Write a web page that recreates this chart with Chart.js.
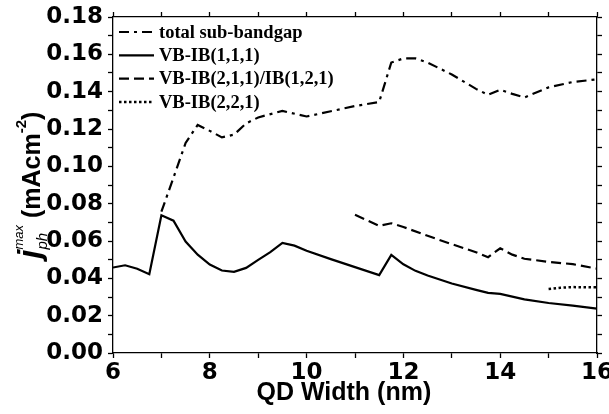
<!DOCTYPE html>
<html>
<head>
<meta charset="utf-8">
<script src="https://cdn.jsdelivr.net/npm/chart.js@4.4.0/dist/chart.umd.min.js"></script>
<style>
  html, body { margin: 0; padding: 0; background: #fff; }
  #wrap { width: 609px; height: 414px; }
</style>
</head>
<body>
<div id="wrap"><canvas id="chart" width="609" height="414"></canvas></div>
<script>
// values
const widthTotal = [7, 7.25, 7.5, 7.75, 8, 8.25, 8.5, 8.75, 9, 9.5, 10, 10.5, 11, 11.5, 11.75, 12, 12.25, 12.5, 13, 13.5, 13.75, 14, 14.25, 14.5, 15, 15.5, 16];
const totalSubBandgap = [0.0757, 0.094, 0.1125, 0.1222, 0.119, 0.1155, 0.117, 0.123, 0.1262, 0.1297, 0.1267, 0.1295, 0.1323, 0.1345, 0.1556, 0.1578, 0.1578, 0.1556, 0.1492, 0.1415, 0.1383, 0.141, 0.1388, 0.1369, 0.1423, 0.1452, 0.1466];

const widthVB111 = [6, 6.25, 6.5, 6.75, 7, 7.25, 7.5, 7.75, 8, 8.25, 8.5, 8.75, 9, 9.25, 9.5, 9.75, 10, 10.5, 11, 11.5, 11.75, 12, 12.25, 12.5, 13, 13.5, 13.75, 14, 14.5, 15, 15.5, 16];
const vb111 = [0.0458, 0.047, 0.0451, 0.0422, 0.0738, 0.0709, 0.0597, 0.0527, 0.0474, 0.0442, 0.0435, 0.0456, 0.0499, 0.054, 0.059, 0.0575, 0.0548, 0.0503, 0.046, 0.0417, 0.0526, 0.0475, 0.044, 0.0415, 0.0372, 0.0338, 0.0322, 0.0317, 0.0287, 0.0268, 0.0254, 0.0238];

const widthVB211 = [11, 11.5, 11.75, 12, 12.5, 13, 13.5, 13.75, 14, 14.25, 14.5, 15, 15.5, 16];
const vb211 = [0.074, 0.0681, 0.0695, 0.0675, 0.0628, 0.0583, 0.054, 0.0513, 0.0561, 0.0527, 0.0505, 0.0488, 0.0476, 0.0452];

const widthVB221 = [15, 15.25, 15.5, 16];
const vb221 = [0.0343, 0.035, 0.0353, 0.0352];

const seriesNames = ["total sub-bandgap", "VB-IB(1,1,1)", "VB-IB(2,1,1)/IB(1,2,1)", "VB-IB(2,2,1)"];
const xTitle = "QD Width (nm)";

const black = "#000";
const tickFont = { family: "DejaVu Sans", weight: "bold", size: 23 };

function pts(xs, ys){
  return xs.map((x, i) => ({ x: x, y: ys[i] }));
}

function line(label, xs, ys, dash, width){
  return {
    label: label,
    data: pts(xs, ys),
    borderColor: black,
    backgroundColor: black,
    borderWidth: width,
    borderDash: dash,
    pointRadius: 0,
    tension: 0,
    fill: false,
    xAxisID: "x",
    yAxisID: "y"
  };
}

function grid(){
  return { display: true, drawOnChartArea: false, drawTicks: true, tickLength: 5, tickWidth: 1.3, tickColor: black };
}
const border = { display: true, color: black, width: 1.3 };

// legend inside the plot, top left, with the dataset dash patterns
const insideLegend = {
  id: "insideLegend",
  afterDraw(chart){
    const ctx = chart.ctx;
    const area = chart.chartArea;
    ctx.save();
    ctx.font = 'bold 18.5px "Liberation Serif"';
    ctx.textBaseline = "middle";
    ctx.fillStyle = black;
    chart.data.datasets.forEach((ds, i) => {
      const y = area.top + 15 + i * 23.3;
      const x0 = area.left + 6;
      ctx.strokeStyle = black;
      ctx.lineWidth = ds.borderWidth;
      ctx.setLineDash(ds.borderDash || []);
      ctx.beginPath();
      ctx.moveTo(x0, y);
      ctx.lineTo(x0 + 35, y);
      ctx.stroke();
      ctx.setLineDash([]);
      ctx.fillText(ds.label, x0 + 40, y + 1);
    });
    ctx.restore();
  }
};

// axis titles: x title sits a little left of centre, y title has sub/superscripts
const axisTitles = {
  id: "axisTitles",
  afterDraw(chart){
    const ctx = chart.ctx;
    const area = chart.chartArea;
    const fam = '"Liberation Sans"';

    ctx.save();
    ctx.fillStyle = black;
    ctx.font = "bold 25px " + fam;
    ctx.textAlign = "center";
    ctx.textBaseline = "middle";
    ctx.fillText(xTitle, area.left + (area.right - area.left) * 0.477, 393);
    ctx.restore();

    const segs = [
      { t: "j", f: "italic bold 32px " + fam, dy: 0 },
      { stack: [ { t: "ph", f: "italic 15px " + fam, dy: 7 }, { t: "max", f: "italic 13px " + fam, dy: -17 } ] },
      { t: " (mAcm", f: "bold 25px " + fam, dy: 0 },
      { t: "-2", f: "bold 15px " + fam, dy: -14 },
      { t: ")", f: "bold 25px " + fam, dy: 0 }
    ];
    ctx.save();
    let total = 0;
    segs.forEach(s => {
      if(s.stack){
        s.w = Math.max(...s.stack.map(p => { ctx.font = p.f; return ctx.measureText(p.t).width; }));
      } else {
        ctx.font = s.f;
        s.w = ctx.measureText(s.t).width;
      }
      total += s.w;
    });
    ctx.translate(40, (area.top + area.bottom) / 2);
    ctx.rotate(-Math.PI / 2);
    ctx.fillStyle = black;
    ctx.textBaseline = "alphabetic";
    ctx.textAlign = "left";
    let x = -total / 2;
    segs.forEach(s => {
      const parts = s.stack || [s];
      parts.forEach(p => {
        ctx.font = p.f;
        ctx.fillText(p.t, x, p.dy);
      });
      x += s.w;
    });
    ctx.restore();
  }
};

new Chart(document.getElementById("chart"), {
  type: "line",
  data: {
    datasets: [
      line(seriesNames[0], widthTotal, totalSubBandgap, [10, 5, 3, 5], 2.2),
      line(seriesNames[1], widthVB111, vb111, [], 2.2),
      line(seriesNames[2], widthVB211, vb211, [10, 5], 2.2),
      line(seriesNames[3], widthVB221, vb221, [2.5, 2.5], 2.5)
    ]
  },
  options: {
    responsive: false,
    animation: false,
    layout: { padding: 0 },
    plugins: {
      tooltip: { enabled: false },
      legend: { display: false }
    },
    scales: {
      x: {
        type: "linear",
        position: "bottom",
        min: 6,
        max: 16,
        grid: grid(),
        border: border,
        ticks: {
          stepSize: 1,
          autoSkip: false,
          maxRotation: 0,
          padding: 1,
          color: black,
          font: tickFont,
          callback: v => (v % 2 === 0 ? String(v) : "")
        },
        afterFit: s => { s.height = 61; s.paddingLeft = 0; s.paddingRight = 0; }
      },
      y: {
        type: "linear",
        position: "left",
        min: 0,
        max: 0.18,
        grid: grid(),
        border: border,
        ticks: {
          stepSize: 0.01,
          autoSkip: false,
          padding: 5,
          color: black,
          font: tickFont,
          callback: v => {
            const k = Math.round(v * 100);
            return k % 2 === 0 ? (k / 100).toFixed(2) : "";
          }
        },
        afterFit: s => { s.width = 113; s.paddingTop = 0; s.paddingBottom = 0; }
      },
      xTop: {
        type: "linear",
        position: "top",
        min: 6,
        max: 16,
        grid: grid(),
        border: border,
        ticks: { display: false, stepSize: 1, autoSkip: false },
        afterFit: s => { s.height = 17; }
      },
      yRight: {
        type: "linear",
        position: "right",
        min: 0,
        max: 0.18,
        grid: grid(),
        border: border,
        ticks: { display: false, stepSize: 0.01, autoSkip: false },
        afterFit: s => { s.width = 12; }
      }
    }
  },
  plugins: [insideLegend, axisTitles]
});
</script>
</body>
</html>
